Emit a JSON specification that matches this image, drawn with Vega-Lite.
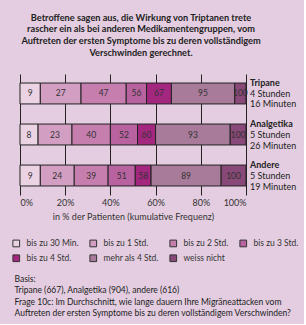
{
  "$schema": "https://vega.github.io/schema/vega-lite/v6.json",
  "background": "#e4cde0",
  "padding": {"left": 12, "top": 13, "right": 5, "bottom": 5},
  "title": {
    "text": ["Betroffene sagen aus, die Wirkung von Triptanen trete", "rascher ein als bei anderen Medikamentengruppen, vom", "Auftreten der ersten Symptome bis zu deren vollständigem", "Verschwinden gerechnet."],
    "fontSize": 9.2, "fontWeight": "bold", "font": "Lato", "lineHeight": 11.7, "anchor": "middle", "color": "#222", "offset": 16, "frame": "group", "dx": 8
  },
  "datasets": {
    "segs": [
      {"group": "Tripane", "cat": "bis zu 30 Min.", "start": 0, "end": 9},
      {"group": "Tripane", "cat": "bis zu 1 Std.", "start": 9, "end": 27},
      {"group": "Tripane", "cat": "bis zu 2 Std.", "start": 27, "end": 47},
      {"group": "Tripane", "cat": "bis zu 3 Std.", "start": 47, "end": 56},
      {"group": "Tripane", "cat": "bis zu 4 Std.", "start": 56, "end": 67},
      {"group": "Tripane", "cat": "mehr als 4 Std.", "start": 67, "end": 95},
      {"group": "Tripane", "cat": "weiss nicht", "start": 95, "end": 100},
      {"group": "Analgetika", "cat": "bis zu 30 Min.", "start": 0, "end": 8},
      {"group": "Analgetika", "cat": "bis zu 1 Std.", "start": 8, "end": 23},
      {"group": "Analgetika", "cat": "bis zu 2 Std.", "start": 23, "end": 40},
      {"group": "Analgetika", "cat": "bis zu 3 Std.", "start": 40, "end": 52},
      {"group": "Analgetika", "cat": "bis zu 4 Std.", "start": 52, "end": 60},
      {"group": "Analgetika", "cat": "mehr als 4 Std.", "start": 60, "end": 93},
      {"group": "Analgetika", "cat": "weiss nicht", "start": 93, "end": 100},
      {"group": "Andere", "cat": "bis zu 30 Min.", "start": 0, "end": 9},
      {"group": "Andere", "cat": "bis zu 1 Std.", "start": 9, "end": 24},
      {"group": "Andere", "cat": "bis zu 2 Std.", "start": 24, "end": 39},
      {"group": "Andere", "cat": "bis zu 3 Std.", "start": 39, "end": 51},
      {"group": "Andere", "cat": "bis zu 4 Std.", "start": 51, "end": 58},
      {"group": "Andere", "cat": "mehr als 4 Std.", "start": 58, "end": 89},
      {"group": "Andere", "cat": "weiss nicht", "start": 89, "end": 100}
    ],
    "groups": [
      {"group": "Tripane", "name": "Tripane", "l2": "4 Stunden", "l3": "16 Minuten"},
      {"group": "Analgetika", "name": "Analgetika", "l2": "5 Stunden", "l3": "26 Minuten"},
      {"group": "Andere", "name": "Andere", "l2": "5 Stunden", "l3": "19 Minuten"}
    ]
  },
  "vconcat": [
    {
      "width": 226,
      "height": 121,
      "resolve": {"legend": {"color": "independent"}},
      "encoding": {
        "y": {"field": "group", "type": "nominal", "sort": ["Tripane", "Analgetika", "Andere"], "axis": null,
              "scale": {"paddingInner": 0.49, "paddingOuter": 0.22}}
      },
      "layer": [
        {
          "data": {"name": "segs"},
          "mark": {"type": "bar", "stroke": "#222", "strokeWidth": 1, "opacity": 1},
          "encoding": {
            "x": {"field": "start", "type": "quantitative", "scale": {"domain": [0, 100], "nice": false},
                  "axis": {"values": [0, 10, 20, 30, 40, 50, 60, 70, 80, 90, 100], "grid": true, "gridColor": "#222", "gridWidth": 1, "gridOpacity": 1,
                           "domain": false, "ticks": false,
                           "labelExpr": "datum.value % 20 == 0 ? datum.value + '%' : ''",
                           "labelFontSize": 9, "labelColor": "#333", "labelPadding": 3, "labelFont": "Lato",
                           "title": "in % der Patienten (kumulative Frequenz)", "titleFontWeight": "normal", "titleFontSize": 9, "titleColor": "#333", "titleFont": "Lato", "titlePadding": 5}},
            "x2": {"field": "end"},
            "color": {"field": "cat", "type": "nominal",
                      "sort": ["bis zu 30 Min.", "bis zu 1 Std.", "bis zu 2 Std.", "bis zu 3 Std.", "bis zu 4 Std.", "mehr als 4 Std.", "weiss nicht"],
                      "scale": {"domain": ["bis zu 30 Min.", "bis zu 1 Std.", "bis zu 2 Std.", "bis zu 3 Std.", "bis zu 4 Std.", "mehr als 4 Std.", "weiss nicht"],
                                "range": ["#ebd3e4", "#d29fc2", "#c57eae", "#b8629f", "#a3277f", "#a87b9a", "#884878"]},
                      "legend": {"orient": "none", "direction": "horizontal", "legendX": -8, "legendY": 165, "columns": 4, "title": null, "symbolType": "square", "symbolSize": 45,
                                 "symbolStrokeColor": "#333", "symbolStrokeWidth": 1, "labelFontSize": 8.5, "labelFont": "Lato", "labelColor": "#333",
                                 "labelOffset": 6, "rowPadding": 3, "columnPadding": 8}}
          }
        },
        {
          "data": {"name": "segs"},
          "transform": [{"calculate": "(datum.start + datum.end) / 2", "as": "mid"}],
          "mark": {"type": "text", "fontSize": 8.5, "font": "Lato", "color": "#333", "align": "center", "baseline": "middle"},
          "encoding": {
            "x": {"field": "mid", "type": "quantitative"},
            "text": {"field": "end", "type": "quantitative"}
          }
        },
        {
          "data": {"name": "groups"},
          "mark": {"type": "text", "fontSize": 9, "font": "Lato", "fontWeight": "bold", "color": "#222", "align": "left", "baseline": "middle", "dx": 4, "dy": -10.5},
          "encoding": {"x": {"datum": 100, "type": "quantitative"}, "text": {"field": "name"}}
        },
        {
          "data": {"name": "groups"},
          "mark": {"type": "text", "fontSize": 9, "font": "Lato", "color": "#222", "align": "left", "baseline": "middle", "dx": 4, "dy": 0.5},
          "encoding": {"x": {"datum": 100, "type": "quantitative"}, "text": {"field": "l2"}}
        },
        {
          "data": {"name": "groups"},
          "mark": {"type": "text", "fontSize": 9, "font": "Lato", "color": "#222", "align": "left", "baseline": "middle", "dx": 4, "dy": 11},
          "encoding": {"x": {"datum": 100, "type": "quantitative"}, "text": {"field": "l3"}}
        }
      ]
    },
    {
      "width": 226,
      "height": 1,
      "data": {"values": [{}]},
      "mark": {"type": "rule", "opacity": 0},
      "encoding": {},
      "title": {
        "text": ["Basis:", "Tripane (667), Analgetika (904), andere (616)", "Frage 10c: Im Durchschnitt, wie lange dauern Ihre Migräneattacken vom", "Auftreten der ersten Symptome bis zu deren vollständigem Verschwinden?"],
        "anchor": "start", "fontSize": 8.5, "fontWeight": "normal", "font": "Lato", "color": "#222", "lineHeight": 11.5, "dx": -5, "offset": 0
      }
    }
  ],
  "resolve": {"legend": {"color": "independent"}},
  "spacing": 10,
  "config": {"view": {"stroke": null}, "font": "Lato"}
}
